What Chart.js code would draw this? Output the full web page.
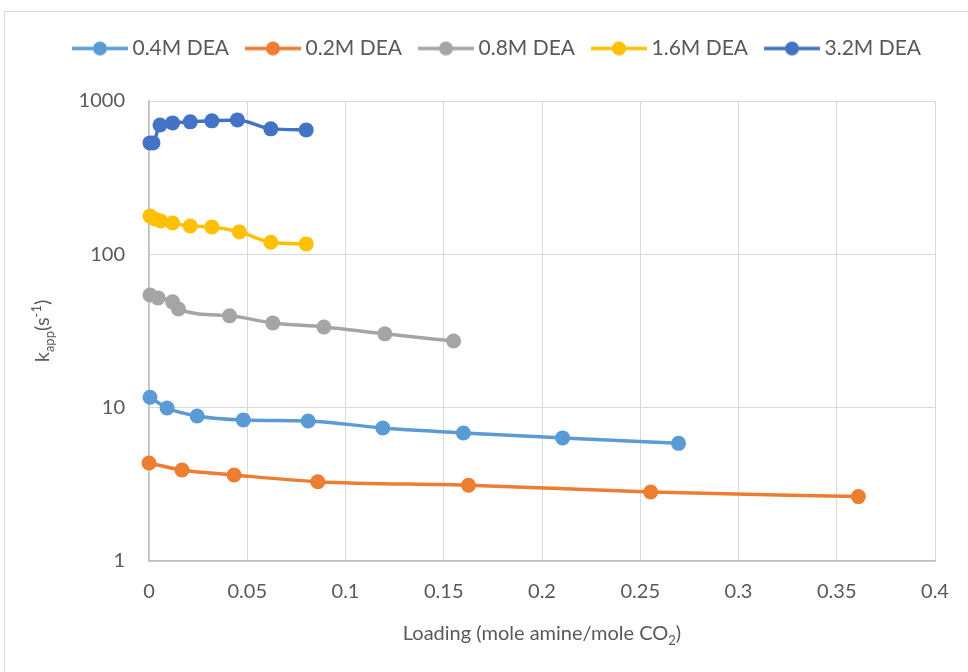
<!DOCTYPE html>
<html lang="en">
<head>
  <meta charset="UTF-8" />
  <title>kapp vs loading</title>
  <script src="https://cdn.jsdelivr.net/npm/chart.js@4.4.0/dist/chart.umd.min.js"></script>
  <style>
    body { margin: 0; background: #fff; overflow: hidden; }
    canvas { display: block; }
  </style>
</head>
<body>
  <canvas id="chart" width="968" height="672"></canvas>
  <script>
    // series
    const seriesNames = ['0.4M DEA', '0.2M DEA', '0.8M DEA', '1.6M DEA', '3.2M DEA'];
    const seriesColors = ['#5B9BD5', '#ED7D31', '#A5A5A5', '#FFC000', '#4472C4'];

    const loading04 = [0.0005, 0.0092, 0.0245, 0.048, 0.081, 0.119, 0.160, 0.2105, 0.2695];
    const kapp04 = [11.7, 9.95, 8.83, 8.32, 8.19, 7.37, 6.84, 6.35, 5.85];

    const loading02 = [0, 0.0168, 0.0433, 0.0859, 0.1626, 0.2553, 0.361];
    const kapp02 = [4.36, 3.92, 3.64, 3.29, 3.12, 2.82, 2.63];

    const loading08 = [0.0005, 0.0046, 0.012, 0.015, 0.041, 0.063, 0.089, 0.120, 0.155];
    const kapp08 = [54.3, 52, 49, 44, 39.7, 35.7, 33.6, 30.3, 27.2];

    const loading16 = [0.0005, 0.003, 0.006, 0.012, 0.021, 0.032, 0.046, 0.062, 0.080];
    const kapp16 = [178, 170, 165, 160, 153, 151, 140, 120, 117];

    const loading32 = [0.0005, 0.002, 0.0056, 0.012, 0.021, 0.032, 0.045, 0.062, 0.080];
    const kapp32 = [533, 533, 698, 720, 731, 742, 753, 658, 648];

    const xTicks = [0, 0.05, 0.1, 0.15, 0.2, 0.25, 0.3, 0.35, 0.4];
    const yTicks = [1, 10, 100, 1000];

    const allX = [loading04, loading02, loading08, loading16, loading32];
    const allY = [kapp04, kapp02, kapp08, kapp16, kapp32];

    const FONT = 'Lato';
    const TXT = '#595959';

    function pairs(xs, ys) {
      return xs.map((x, i) => ({ x: x, y: ys[i] }));
    }

    // little line + dot icon for the legend, like excel draws it
    function legendIcon(color) {
      const c = document.createElement('canvas');
      c.width = 56; c.height = 16;
      const g = c.getContext('2d');
      g.strokeStyle = color;
      g.lineWidth = 3.5;
      g.beginPath(); g.moveTo(0, 8); g.lineTo(56, 8); g.stroke();
      g.fillStyle = color;
      g.beginPath(); g.arc(28, 8, 7, 0, Math.PI * 2); g.fill();
      return c;
    }
    const icons = seriesColors.map(legendIcon);

    const datasets = seriesNames.map((name, i) => ({
      label: name,
      data: pairs(allX[i], allY[i]),
      borderColor: seriesColors[i],
      backgroundColor: seriesColors[i],
      borderWidth: 3.5,
      pointRadius: 7.5,
      pointHoverRadius: 7.5,
      pointBorderWidth: 0,
      cubicInterpolationMode: 'monotone',
      clip: false,
      fill: false
    }));

    // draws text pieces with sub/superscripts
    function richText(ctx, parts, cx, cy) {
      let total = 0;
      for (const p of parts) {
        ctx.font = p.size + 'px ' + FONT;
        p.w = ctx.measureText(p.text).width;
        total += p.w;
      }
      let x = cx - total / 2;
      for (const p of parts) {
        ctx.font = p.size + 'px ' + FONT;
        ctx.fillText(p.text, x, cy + (p.dy || 0));
        x += p.w;
      }
    }

    const extras = {
      id: 'extras',
      beforeInit(chart) {
        const fit = chart.legend.fit;
        chart.legend.fit = function () {
          fit.bind(chart.legend)();
          this.height = 85;
        };
      },
      afterLayout(chart) {
        // excel centres the legend on the whole chart, not the plot
        chart.legend.left += 32;
        chart.legend.right += 32;
      },
      beforeDraw(chart) {
        const ctx = chart.ctx;
        ctx.save();
        ctx.strokeStyle = '#d9d9d9';
        ctx.lineWidth = 1;
        ctx.strokeRect(4.5, 11.5, 1000, 1000);
        ctx.restore();
      },
      afterDraw(chart) {
        const ctx = chart.ctx;
        const a = chart.chartArea;
        ctx.save();
        ctx.fillStyle = TXT;
        ctx.textBaseline = 'alphabetic';
        ctx.textAlign = 'left';
        // x title
        richText(ctx, [
          { text: 'Loading (mole amine/mole CO', size: 20 },
          { text: '2', size: 13, dy: 5 },
          { text: ')', size: 20 }
        ], (a.left + a.right) / 2, 640);
        // y title
        ctx.translate(49, (a.top + a.bottom) / 2);
        ctx.rotate(-Math.PI / 2);
        richText(ctx, [
          { text: 'k', size: 20 },
          { text: 'app', size: 13, dy: 5 },
          { text: '(s', size: 20 },
          { text: '-1', size: 13, dy: -8 },
          { text: ')', size: 20 }
        ], 0, 0);
        ctx.restore();
      }
    };

    new Chart(document.getElementById('chart'), {
      type: 'line',
      data: { datasets: datasets },
      plugins: [extras],
      options: {
        responsive: false,
        animation: false,
        devicePixelRatio: 1,
        layout: { padding: { top: 16, right: 33, left: 0, bottom: 0 } },
        plugins: {
          tooltip: { enabled: false },
          legend: {
            position: 'top',
            labels: {
              usePointStyle: true,
              pointStyleWidth: 44,
              padding: 22,
              color: TXT,
              font: { family: FONT, size: 21 },
              generateLabels(chart) {
                const items = Chart.defaults.plugins.legend.labels.generateLabels(chart);
                items.forEach((it, i) => { it.pointStyle = icons[i]; });
                return items;
              }
            }
          }
        },
        scales: {
          x: {
            type: 'linear',
            min: 0,
            max: 0.4,
            afterBuildTicks(s) { s.ticks = xTicks.map(v => ({ value: v })); },
            afterFit(s) { s.height = 111; },
            grid: { color: '#d9d9d9', lineWidth: 1, drawTicks: false },
            border: { color: '#bfbfbf', width: 1.5 },
            ticks: {
              padding: 19,
              color: TXT,
              font: { family: FONT, size: 20 },
              callback: v => String(Number(v.toFixed(2)))
            }
          },
          y: {
            type: 'logarithmic',
            min: 1,
            max: 1000,
            afterBuildTicks(s) { s.ticks = yTicks.map(v => ({ value: v })); },
            afterFit(s) { s.width = 149; },
            grid: { color: '#d9d9d9', lineWidth: 1, drawTicks: false },
            border: { color: '#bfbfbf', width: 1.5 },
            ticks: {
              padding: 24,
              color: TXT,
              font: { family: FONT, size: 20 },
              callback: v => String(v)
            }
          }
        }
      }
    });
  </script>
</body>
</html>
